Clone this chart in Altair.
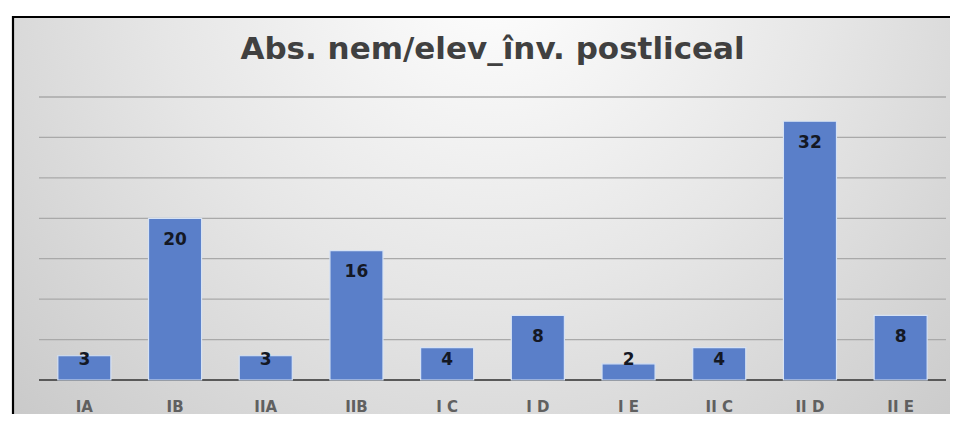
import altair as alt
import pandas as pd

categories = ["IA", "IB", "IIA", "IIB", "I C", "I D", "I E", "II C", "II D", "II E"]
values = [3, 20, 3, 16, 4, 8, 2, 4, 32, 8]
grid_values = [5, 10, 15, 20, 25, 30, 35]
title_text = "Abs. nem/elev_înv. postliceal"

W, H = 907, 283

df = pd.DataFrame({"cat": categories, "value": values})
gdf = pd.DataFrame({"g": grid_values})
zdf = pd.DataFrame({"g": [0]})
one = pd.DataFrame({"a": [0]})

yscale = alt.Scale(domain=[0, 35], nice=False, zero=True)
xscale = alt.Scale(paddingInner=0.415, paddingOuter=0.2075)

bg = alt.Chart(one).mark_rect(
    fill={
        "gradient": "radial",
        "x1": 0.5, "y1": 0.22, "r1": 0.0,
        "x2": 0.5, "y2": 0.22, "r2": 0.78,
        "stops": [
            {"offset": 0.0, "color": "#ffffff"},
            {"offset": 0.45, "color": "#e6e6e6"},
            {"offset": 1.0, "color": "#c2c2c2"},
        ],
    },
).encode(
    x=alt.value(-26), x2=alt.value(W + 30),
    y=alt.value(-80), y2=alt.value(H + 60),
)

border_left = alt.Chart(one).mark_rule(color="#000000", strokeWidth=2.2).encode(
    x=alt.value(-26), y=alt.value(-81), y2=alt.value(H + 60)
)
border_top = alt.Chart(one).mark_rule(color="#000000", strokeWidth=2.2).encode(
    x=alt.value(-27), x2=alt.value(W + 30), y=alt.value(-80)
)

grid = alt.Chart(gdf).mark_rule(color="#a9a9a9", strokeWidth=1.3).encode(
    y=alt.Y("g:Q", scale=yscale, axis=None)
)

base = alt.Chart(zdf).mark_rule(color="#595959", strokeWidth=2.2).encode(
    y=alt.Y("g:Q", scale=yscale, axis=None)
)

bars = alt.Chart(df).mark_bar(
    color="#5a7fc9", stroke="#d6e2f4", strokeWidth=1.2
).encode(
    x=alt.X("cat:N", sort=categories, scale=xscale, title=None,
            axis=alt.Axis(labelAngle=0, ticks=False, tickSize=0, domain=False,
                          grid=False,
                          labelFontSize=15, labelFont="DejaVu Sans",
                          labelFontWeight="bold", labelColor="#606060",
                          labelBaseline="middle",
                          labelPadding=26, zindex=1)),
    y=alt.Y("value:Q", scale=yscale, axis=None),
)

labels = alt.Chart(df).transform_calculate(
    ly="max(datum.value - 2.7, 2.5)"
).mark_text(
    font="DejaVu Sans", fontSize=17, fontWeight="bold", color="#141824",
    baseline="middle", align="center"
).encode(
    x=alt.X("cat:N", sort=categories, scale=xscale),
    y=alt.Y("ly:Q", scale=yscale, axis=None),
    text=alt.Text("value:Q"),
)

chart = alt.layer(bg, border_left, border_top, grid, base, bars, labels).properties(
    width=W, height=H,
    autosize=alt.AutoSizeParams(type="none"),
    padding={"left": 31, "top": 89, "right": 4, "bottom": 34},
    title=alt.Title(title_text, font="DejaVu Sans", fontSize=31, fontWeight="bold",
                    color="#404040", anchor="middle", baseline="alphabetic",
                    offset=-75),
).configure_view(stroke=None).configure(background="#ffffff")

chart.save("out.html", embed_options={"renderer": "svg", "actions": False})
